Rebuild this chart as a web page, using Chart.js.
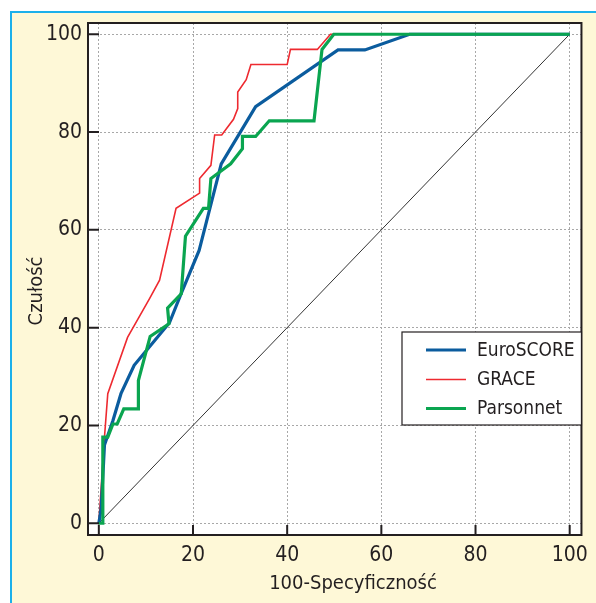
<!DOCTYPE html>
<html>
<head>
<meta charset="utf-8">
<script src="https://cdn.jsdelivr.net/npm/chart.js@4/dist/chart.umd.min.js"></script>
<style>
  html, body { margin: 0; padding: 0; background: #ffffff; }
  #frame { position: absolute; left: 10px; top: 11px; width: 586px; height: 592px; box-sizing: border-box;
           background: #fef8d7; border-top: 2px solid #1cb0ea; border-left: 2px solid #1cb0ea; }
  #c { position: absolute; left: 0; top: 0; }
</style>
</head>
<body>
<div id="frame"></div>
<canvas id="c" width="596" height="603"></canvas>
<script>
// ---- data ----
const tickValues = [0, 20, 40, 60, 80, 100];
const seriesNames = ['EuroSCORE', 'GRACE', 'Parsonnet'];
const xTitle = '100-Specyficzność';
const yTitle = 'Czułość';

const euroX = [0, 0.5, 1.2, 3.0, 4.7, 7.5, 10.5, 15.0, 17.5, 21.3, 26.0, 33.3, 50.8, 56.5, 66.0, 100];
const euroY = [0, 3.0, 16.0, 21.0, 26.5, 32.3, 35.8, 41.0, 47.0, 55.8, 73.5, 85.2, 96.8, 96.8, 100, 100];

const graceX = [0, 1.2, 1.9, 6.1, 10.8, 12.9, 16.4, 21.4, 21.4, 23.8, 24.6, 26.1, 28.6, 29.5, 29.5, 31.3, 32.3, 40.0, 40.7, 46.4, 49.2, 100];
const graceY = [0, 17.6, 26.5, 38.0, 46.0, 49.7, 64.4, 67.5, 70.5, 73.2, 79.4, 79.4, 82.6, 84.8, 88.2, 90.7, 93.8, 93.8, 96.9, 96.9, 100, 100];

const parsX = [0, 0.85, 0.85, 1.9, 3.0, 3.9, 5.3, 8.4, 8.4, 10.9, 14.9, 14.6, 17.5, 18.4, 22.2, 23.3, 23.8, 28.0, 30.5, 30.5, 33.3, 36.2, 45.7, 47.4, 49.9, 100];
const parsY = [0, 0, 17.6, 17.6, 20.3, 20.3, 23.4, 23.4, 29.2, 38.2, 40.8, 44.0, 46.9, 58.7, 64.4, 64.4, 70.5, 73.5, 76.6, 79.1, 79.1, 82.3, 82.3, 96.9, 100, 100];

const diagX = [0, 100];
const diagY = [0, 100];

const toPts = (xs, ys) => xs.map((x, i) => ({ x: x, y: ys[i] }));

const FONT = "'Liberation Sans Narrow', 'DejaVu Sans Condensed', 'Liberation Sans', sans-serif";
const TXT = '#231f20';

const colors = { EuroSCORE: '#0b5c9e', GRACE: '#ee2a30', Parsonnet: '#0aa550' };
const widths = { EuroSCORE: 3.2, GRACE: 1.6, Parsonnet: 3.2 };

const bgPlugin = {
  id: 'bg',
  beforeDraw(chart) {
    const { ctx, chartArea: a } = chart;
    ctx.save();
    ctx.fillStyle = '#ffffff';
    ctx.fillRect(a.left, a.top, a.right - a.left, a.bottom - a.top);
    ctx.restore();
  },
  afterDraw(chart) {
    const { ctx, chartArea: a, scales } = chart;
    ctx.save();
    ctx.strokeStyle = '#231f20';
    ctx.lineWidth = 2;
    ctx.strokeRect(a.left, a.top, a.right - a.left, a.bottom - a.top);
    // inner tick marks
    ctx.beginPath();
    tickValues.forEach(v => {
      const py = scales.y.getPixelForValue(v);
      ctx.moveTo(a.left, py); ctx.lineTo(a.left + 11, py);
      const px = scales.x.getPixelForValue(v);
      ctx.moveTo(px, a.bottom); ctx.lineTo(px, a.bottom - 10);
    });
    ctx.stroke();
    // axis titles
    ctx.fillStyle = TXT;
    ctx.font = '20px ' + FONT;
    ctx.textAlign = 'center';
    ctx.textBaseline = 'middle';
    ctx.fillText(xTitle, 353, 584);
    ctx.save();
    ctx.translate(37, 291);
    ctx.rotate(-Math.PI / 2);
    ctx.fillText(yTitle, 0, 0);
    ctx.restore();
    // legend box
    const lx = 402, ly = 332, lw = a.right - 402, lh = 93;
    ctx.fillStyle = '#ffffff';
    ctx.fillRect(lx, ly, lw, lh);
    ctx.lineWidth = 1.2;
    ctx.strokeStyle = '#231f20';
    ctx.strokeRect(lx, ly, lw, lh);
    const rowY = [350, 379.5, 408.5];
    chart.data.datasets.filter(d => seriesNames.includes(d.label)).forEach(d => {
      const yy = rowY[seriesNames.indexOf(d.label)];
      ctx.strokeStyle = d.borderColor;
      ctx.lineWidth = d.borderWidth;
      ctx.beginPath(); ctx.moveTo(426, yy); ctx.lineTo(466, yy); ctx.stroke();
      ctx.fillStyle = TXT;
      ctx.font = '19px ' + FONT;
      ctx.textBaseline = 'middle';
      ctx.textAlign = 'left';
      ctx.fillText(d.label, 477, yy + 1);
    });
    ctx.restore();
  }
};

const mk = (label, xs, ys, order) => ({
  label, data: toPts(xs, ys), showLine: true, pointRadius: 0, pointHoverRadius: 0,
  borderColor: colors[label], backgroundColor: colors[label], borderWidth: widths[label],
  tension: 0, fill: false, order
});

const setTicks = s => { s.ticks = tickValues.map(v => ({ value: v })); };

new Chart(document.getElementById('c'), {
  type: 'scatter',
  data: {
    datasets: [
      mk('EuroSCORE', euroX, euroY, 1),
      mk('GRACE', graceX, graceY, 2),
      mk('Parsonnet', parsX, parsY, 0),
      { label: 'diag', data: toPts(diagX, diagY), showLine: true, pointRadius: 0, borderColor: '#333333',
        borderWidth: 1, tension: 0, fill: false, order: 3 }
    ]
  },
  options: {
    responsive: false, animation: false, devicePixelRatio: 1,
    layout: { padding: { left: 0, top: 23, right: 12, bottom: 0 } },
    plugins: { legend: { display: false }, tooltip: { enabled: false } },
    scales: {
      x: {
        type: 'linear', min: -2.3, max: 102.5,
        afterBuildTicks: setTicks,
        afterFit: s => { s.height = 68; },
        grid: { color: '#a8a8a8', lineWidth: 1, drawTicks: false },
        border: { display: false, dash: [2, 2] },
        ticks: { color: TXT, font: { family: FONT, size: 21 }, padding: 8, maxRotation: 0 },
        title: { display: false }
      },
      y: {
        type: 'linear', min: -2.4, max: 102.3,
        afterBuildTicks: setTicks,
        afterFit: s => { s.width = 88; },
        grid: { color: '#a8a8a8', lineWidth: 1, drawTicks: false },
        border: { display: false, dash: [2, 2] },
        ticks: { color: TXT, font: { family: FONT, size: 21 }, padding: 6 },
        title: { display: false }
      }
    }
  },
  plugins: [bgPlugin]
});
</script>
</body>
</html>
